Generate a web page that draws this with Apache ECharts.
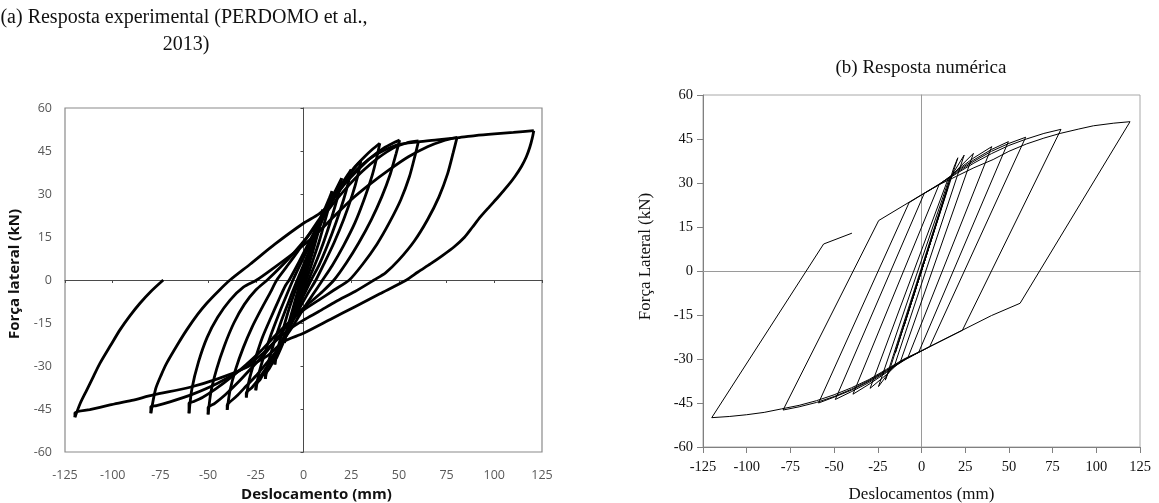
<!DOCTYPE html>
<html><head><meta charset="utf-8">
<script src="https://cdn.jsdelivr.net/npm/echarts@6/dist/echarts.min.js"></script>
<style>html,body{margin:0;padding:0;background:#fff}#c{width:1159px;height:503px}</style>
</head><body><div id="c"></div>
<script>
// ---- tick values ----
const xTicks = [-125,-100,-75,-50,-25,0,25,50,75,100,125];
const yTicks = [-60,-45,-30,-15,0,15,30,45,60];

// ---- (a) experimental response: branches [displacement mm, force kN] ----
const expUp5 = [[0,0],[1.5,4.5],[3,9],[4.2,12],[5,14]];
const expDown5 = [[5,14],[4,10],[2.5,5],[1,1],[-1,-3.5],[-3,-7.5],[-4.5,-11],[-5,-12],[-5,-13]];
const expUp10 = [[-5,-13],[-4,-9],[-2.5,-5],[-1,-1],[1,3.5],[3.5,9],[6,14.5],[8.5,20],[10,24.5]];
const expDown10 = [[10,24.5],[9,20],[7,15],[4.5,9],[2,3.5],[0.5,0],[-2,-5],[-5,-11],[-8,-17],[-10,-20.5],[-10,-22]];
const expUp15 = [[-10,-22],[-8.5,-17],[-6,-11],[-3.5,-5],[-1.5,0],[1,5],[4,11],[7.5,18],[11,24.5],[13.5,28.5],[15,31]];
const expDown15 = [[15,31],[13.5,26],[11,20],[8,13],[4.5,6],[2,1],[0,-3],[-3,-9],[-7,-16],[-11,-22.5],[-14,-27],[-15,-28],[-15,-29.5]];
const expUp20 = [[-15,-29.5],[-13.5,-24],[-11,-18],[-8,-11],[-5,-5],[-2,0.5],[1,6],[5,13],[9,20],[13,26.5],[17,31.5],[20,35.5]];
const expDown20 = [[20,35.5],[18.5,30.5],[16,24.5],[12.5,17],[8.5,9.5],[4.5,3],[2,-1],[-2,-7],[-6,-13.5],[-10,-20],[-14,-26],[-18,-31],[-20,-33],[-20,-34.5]];
const expUp25 = [[-20,-34.5],[-18.5,-29],[-15.5,-22],[-12,-15],[-8,-8],[-4.5,-2],[-2,2],[2,8.5],[6.5,15.5],[11,22.5],[15.5,28.5],[20,33.5],[23,36.5],[25,38.5]];
const expDown25 = [[25,38.5],[23.5,34],[21,28],[17,20],[12.5,12],[8,5],[4,0],[0,-5.5],[-5,-12.5],[-10,-19.5],[-15,-26],[-20,-31.5],[-23,-35],[-25,-36.5],[-25,-38.5]];
const expUp30 = [[-25,-38.5],[-23.5,-33],[-20.5,-26],[-17,-19],[-13,-12],[-9,-5.5],[-5.5,0],[-2,5],[2,10.5],[7,17.5],[12,24],[17,30],[22,35],[26,38.5],[30,41.5]];
const expDown30 = [[30,41.5],[28.5,36.5],[25.5,29.5],[21,21],[16,13],[11,6],[6.5,0],[2,-5],[-3,-11],[-8,-17.5],[-13,-23.5],[-18,-29],[-23,-34],[-27,-37.5],[-30,-39.5],[-30,-41]];
const expUp40 = [[-30,-41],[-28.5,-35],[-25.5,-28],[-21.5,-20],[-17,-13],[-13,-7],[-9.5,-2],[-7.5,0],[-3,5.5],[2,12],[7,18.5],[12,24.5],[17,30],[22,35],[27,39.5],[32,43],[36,45.5],[40,47.7]];
const expDown40 = [[40,47.7],[38.5,43],[36,36.5],[32,28.5],[27,20],[21,12],[15,5],[10,0],[5,-5],[0,-10],[-5,-15.5],[-10,-20.5],[-15,-25.5],[-20,-29.5],[-25,-33.5],[-30,-37],[-35,-40.5],[-38.5,-42.5],[-40,-43.6],[-40,-45.3]];
const expUp50 = [[-40,-45.3],[-38.5,-38.5],[-35.5,-31],[-31.5,-23.5],[-27,-16.5],[-22,-10],[-17.5,-4.5],[-14,0],[-9,4.5],[-3,10],[3,16],[9,22],[15,27.5],[21,33],[28,38],[35,42.5],[42,46],[47,47.8],[50.4,48.8]];
const expDown50 = [[50.4,48.8],[48.5,44],[45.5,37],[41,29],[35.5,21],[29,13],[22.5,6],[16,0],[10,-4],[4,-7.5],[-2,-11],[-8,-15.5],[-14,-20.5],[-20,-25.5],[-27,-30.5],[-34,-35.5],[-41,-40],[-46.5,-43],[-50,-44.5],[-50,-46.9]];
const expUp60 = [[-50,-46.9],[-48.5,-39],[-45.5,-31],[-41.5,-23],[-36.5,-15],[-31,-8.5],[-25,-3.5],[-19,0],[-12,4.5],[-5,9.5],[2,15],[9,21],[16,27],[23,32.5],[31,38],[39,42.5],[47,46],[54,47.8],[60.3,48.5]];
const expDown60 = [[60.3,48.5],[58.5,43.5],[55.5,36],[51,28],[45,20],[38.5,12.5],[31,5.5],[24,0],[16,-3.5],[8,-7],[0,-10.5],[-8,-15],[-15,-19.5],[-22,-24.5],[-30,-29.5],[-38,-34],[-46,-38],[-53,-41],[-58,-42.5],[-60,-43],[-60,-46.5]];
const expUp80 = [[-60,-46.5],[-58.5,-38],[-55,-28.5],[-50.5,-20],[-45,-13],[-38.5,-7],[-31.5,-2.5],[-24.5,0],[-15,4.5],[-5,9.5],[5,15],[15,21.5],[25,28],[35,33.5],[45,38.5],[55,43],[65,46.5],[73,48.5],[80.5,49.8]];
const expDown80 = [[80.5,49.8],[78.5,44.5],[75.5,37],[71,29],[65,21],[58,13.5],[50,7],[43,2.5],[37,0],[27,-4],[17,-7.5],[8,-11],[0,-14],[-8,-17.5],[-15,-21.5],[-22,-26],[-32,-31],[-45,-36],[-58,-39.8],[-70,-42.5],[-77,-43.8],[-80,-44.2],[-80,-46.5]];
const expUp120 = [[-80,-46.5],[-77.5,-38],[-74.5,-33],[-71.7,-29],[-66,-22.5],[-61.2,-17.4],[-55.5,-12],[-50.7,-8.1],[-44.5,-3.8],[-38.5,0],[-28,5.5],[-15,12.5],[0,19.8],[8,23],[13,26],[18,30.5],[23,35],[28,38.5],[34,42],[40,44.5],[50,47.3],[60,48.2],[70,48.9],[80,49.6],[90,50.4],[100,51],[110,51.5],[120.7,52.1]];
const expDown120 = [[120.7,52.1],[119.9,49.5],[118.6,46.3],[116.8,43],[114.3,39.7],[111,36.3],[107,32.8],[102.5,29.3],[97.5,25.6],[92.7,22],[88.5,18.4],[84.5,15],[79,11.6],[73,8.6],[66.5,5.6],[60,2.8],[54,0],[40,-4.8],[27,-9.3],[14,-13.8],[0,-18.6],[-10.5,-21.5],[-19,-26.5],[-30,-30.5],[-45,-34.5],[-60,-37.5],[-78.7,-40.1],[-90,-42],[-101.4,-43.6],[-112,-45.2],[-119.8,-46.3],[-119.8,-47.9]];
const expFinal = [[-119.8,-47.9],[-117,-43],[-113.6,-38.4],[-110,-33.5],[-106.7,-29.1],[-101,-22.7],[-96.2,-17.4],[-91,-12.5],[-85.7,-8.1],[-80,-4],[-73.5,0]];

// ---- (b) numerical response: cycle paths [displacement mm, force kN] ----
const numInit = [[0,0],[5,9.6],[-5,-9.4],[10,19],[-10,-18.8],[15,28.3],[-15,-28],[18.5,35.3],[20.8,38.6]];
const numCycle20 = [[20.8,38.6],[-17.6,-32.5],[-20.7,-37.2],[16.6,31.9],[24.4,39.5]];
const numCycle25 = [[24.4,39.5],[-15.2,-31.8],[-24.6,-39.4],[16,31.7],[22,35.5],[29.7,40.1]];
const numCycle30 = [[29.7,40.1],[-12,-30.8],[-20,-35.3],[-29.4,-40],[15.2,31.4],[20,34.2],[30,38.6],[40.2,42.4]];
const numCycle40 = [[40.2,42.4],[-7.75,-29.5],[-15,-32.3],[-20,-34.6],[-30,-38.6],[-39.2,-42],[10.1,29.5],[20,33.9],[30,37.9],[40,41.4],[49.7,44.1]];
const numCycle50 = [[49.7,44.1],[-1.6,-27.7],[-10,-30.5],[-20,-34.3],[-30,-38],[-40,-41.1],[-49.3,-43.8],[1.6,26.5],[10,29.6],[20,33.5],[30,37.4],[40,40.8],[50,43.5],[59.6,45.6]];
const numCycle60 = [[59.6,45.6],[4.7,-25.8],[0,-27.3],[-10,-30.3],[-20,-34],[-30,-37.6],[-40,-40.6],[-50,-43],[-58.9,-45],[-7.1,23.3],[0,25.9],[10,29.4],[20,33.2],[30,36.8],[40,40],[50,42.8],[60,45],[70,46.9],[79.8,48.3]];
const numCycle80 = [[79.8,48.3],[23.4,-20.2],[10,-24.2],[0,-27.2],[-10,-30.2],[-20,-33.8],[-30,-37.3],[-40,-40.3],[-50,-42.8],[-60,-44.8],[-70,-46.3],[-79.2,-47.4],[-24.5,17.2],[-10,22.4],[0,26],[10,29.4],[20,32.3],[30,35.2],[41,38],[50,40.8],[60,43.3],[70,45.3],[79.3,46.9],[90,48.4],[98.3,49.5],[110,50.4],[119.3,50.9]];
const numCycle120 = [[119.3,50.9],[56.4,-11],[40,-15.2],[20,-21.2],[0,-27.2],[-10,-30],[-20,-33.5],[-30,-37],[-40,-39.8],[-50,-42.2],[-60,-44.2],[-70,-45.8],[-80,-47],[-90,-48.2],[-100,-49],[-110,-49.6],[-120,-50],[-56,9.2],[-39.8,12.9]];

const expBranches = [expUp5,expDown5,expUp10,expDown10,expUp15,expDown15,expUp20,expDown20,expUp25,expDown25,expUp30,expDown30,expUp40,expDown40,expUp50,expDown50,expUp60,expDown60,expUp80,expDown80,expUp120,expDown120,expFinal];
const numPath = [].concat(numInit,numCycle20,numCycle25,numCycle30,numCycle40,numCycle50,numCycle60,numCycle80,numCycle120);

const chart = echarts.init(document.getElementById('c'), null, {renderer:'canvas'});
const calibri = '"Open Sans", "Liberation Sans", sans-serif';
const serif = '"Liberation Serif", "DejaVu Serif", serif';
const xMin = xTicks[0], xMax = xTicks[xTicks.length-1], xInt = xTicks[1]-xTicks[0];
const yMin = yTicks[0], yMax = yTicks[yTicks.length-1], yInt = yTicks[1]-yTicks[0];

const option = {
  animation: false,
  grid: [
    {left: 65, top: 108, width: 477, height: 344, show: true, borderColor: '#8a8a8a', borderWidth: 1.2, containLabel: false, outerBoundsMode: 'none'},
    {left: 703, top: 95, width: 437, height: 352, show: true, borderColor: '#a8a8a8', borderWidth: 1, containLabel: false, outerBoundsMode: 'none'}
  ],
  xAxis: [
    {gridIndex:0, type:'value', min:xMin, max:xMax, interval:xInt, position:'bottom',
     axisLine:{show:false, onZero:false}, axisTick:{show:false}, splitLine:{show:false},
     axisLabel:{margin:17, color:'#595959', fontFamily:calibri, fontSize:12.5},
     name:'Deslocamento (mm)', nameLocation:'middle', nameGap:28,
     nameTextStyle:{fontFamily:calibri, fontWeight:'bold', fontSize:15, color:'#111', padding:[0,0,0,26]}},
    {gridIndex:0, type:'value', min:xMin, max:xMax, interval:xInt, position:'bottom',
     axisLine:{show:true, onZero:true, lineStyle:{color:'#4a4a4a', width:1}},
     axisTick:{show:true, length:3, lineStyle:{color:'#4a4a4a'}}, axisLabel:{show:false}, splitLine:{show:false}},
    {gridIndex:1, type:'value', min:xMin, max:xMax, interval:xInt, position:'bottom',
     axisLine:{show:true, onZero:false, lineStyle:{color:'#808080', width:1}},
     axisTick:{show:true, length:6, lineStyle:{color:'#808080'}}, splitLine:{show:false},
     axisLabel:{margin:13, color:'#111', fontFamily:serif, fontSize:14.5},
     name:'Deslocamentos (mm)', nameLocation:'middle', nameGap:39,
     nameTextStyle:{fontFamily:serif, fontSize:17, color:'#111'}},
    {gridIndex:1, type:'value', min:xMin, max:xMax, interval:xInt, position:'bottom',
     axisLine:{show:true, onZero:true, lineStyle:{color:'#9a9a9a', width:1}},
     axisTick:{show:false}, axisLabel:{show:false}, splitLine:{show:false}}
  ],
  yAxis: [
    {gridIndex:0, type:'value', min:yMin, max:yMax, interval:yInt, position:'left',
     axisLine:{show:false, onZero:false}, axisTick:{show:false}, splitLine:{show:false},
     axisLabel:{margin:13, color:'#595959', fontFamily:calibri, fontSize:12.5},
     name:'Força lateral (kN)', nameLocation:'middle', nameGap:43,
     nameTextStyle:{fontFamily:calibri, fontWeight:'bold', fontSize:15, color:'#111', padding:[0,0,0,12]}},
    {gridIndex:0, type:'value', min:yMin, max:yMax, interval:yInt, position:'left',
     axisLine:{show:true, onZero:true, lineStyle:{color:'#4a4a4a', width:1}},
     axisTick:{show:true, length:3, lineStyle:{color:'#4a4a4a'}}, axisLabel:{show:false}, splitLine:{show:false}},
    {gridIndex:1, type:'value', min:yMin, max:yMax, interval:yInt, position:'left',
     axisLine:{show:true, onZero:false, lineStyle:{color:'#808080', width:1}},
     axisTick:{show:true, length:6, lineStyle:{color:'#808080'}}, splitLine:{show:false},
     axisLabel:{margin:10, color:'#111', fontFamily:serif, fontSize:14.5},
     name:'Força Lateral (kN)', nameLocation:'middle', nameGap:49,
     nameTextStyle:{fontFamily:serif, fontSize:17, color:'#111', padding:[0,0,0,29]}},
    {gridIndex:1, type:'value', min:yMin, max:yMax, interval:yInt, position:'left',
     axisLine:{show:true, onZero:true, lineStyle:{color:'#9a9a9a', width:1}},
     axisTick:{show:false}, axisLabel:{show:false}, splitLine:{show:false}}
  ],
  graphic: [
    {type:'text', x:184, y:18, style:{text:'(a) Resposta experimental (PERDOMO et al.,', font:'20px ' + serif, fill:'#111', align:'center', verticalAlign:'middle'}},
    {type:'text', x:186, y:45, style:{text:'2013)', font:'20px ' + serif, fill:'#111', align:'center', verticalAlign:'middle'}},
    {type:'text', x:921, y:68, style:{text:'(b) Resposta numérica', font:'19px ' + serif, fill:'#111', align:'center', verticalAlign:'middle'}}
  ],
  series: expBranches.map(b => ({
    type:'line', xAxisIndex:0, yAxisIndex:0, data:b, smooth:0.25, symbol:'none', silent:true,
    lineStyle:{color:'#000', width:2.8}
  })).concat([{
    type:'line', xAxisIndex:2, yAxisIndex:2, data:numPath, symbol:'none', silent:true,
    lineStyle:{color:'#000', width:1}
  }])
};
chart.setOption(option);
</script>
</body></html>
